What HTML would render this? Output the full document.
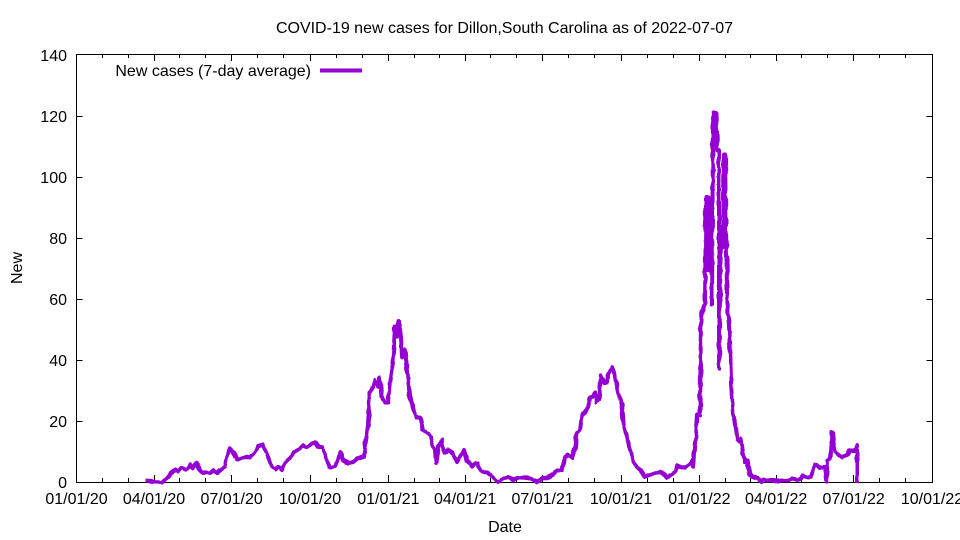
<!DOCTYPE html>
<html>
<head>
<meta charset="utf-8">
<style>
html,body{margin:0;padding:0;background:#fff;}
svg{display:block;}
text{font-family:"Liberation Sans",Arial,sans-serif;font-size:16px;fill:#000;}
</style>
</head>
<body>
<svg width="960" height="540" viewBox="0 0 960 540" xmlns="http://www.w3.org/2000/svg">
<defs>
<filter id="jit" filterUnits="userSpaceOnUse" x="70" y="40" width="880" height="450">
<feTurbulence type="fractalNoise" baseFrequency="0.12 0.12" numOctaves="1" seed="3" result="n"/>
<feDisplacementMap in="SourceGraphic" in2="n" scale="4" xChannelSelector="R" yChannelSelector="G"/>
</filter>
</defs>
<rect width="960" height="540" fill="#fff"/>
<text x="504.5" y="33" text-anchor="middle">COVID-19 new cases for Dillon,South Carolina as of 2022-07-07</text>

<!-- axes box -->
<rect x="76.5" y="54.5" width="856" height="428" fill="none" stroke="#000" stroke-width="1"/>

<!-- y ticks -->
<g stroke="#000" stroke-width="1">
<path d="M76.5 482.5h6M932.5 482.5h-6
M76.5 421.5h6M932.5 421.5h-6
M76.5 360.5h6M932.5 360.5h-6
M76.5 299.5h6M932.5 299.5h-6
M76.5 238.5h6M932.5 238.5h-6
M76.5 177.5h6M932.5 177.5h-6
M76.5 116.5h6M932.5 116.5h-6"/>
<!-- x major ticks -->
<path d="M154.5 482v-7M154.5 54v7
M231.5 482v-7M231.5 54v7
M310.5 482v-7M310.5 54v7
M388.5 482v-7M388.5 54v7
M465.5 482v-7M465.5 54v7
M542.5 482v-7M542.5 54v7
M621.5 482v-7M621.5 54v7
M699.5 482v-7M699.5 54v7
M776.5 482v-7M776.5 54v7
M853.5 482v-7M853.5 54v7"/>
<!-- x minor ticks -->
<path d="M102.5 482v-4M102.5 54v4M128.5 482v-4M128.5 54v4
M179.5 482v-4M179.5 54v4M205.5 482v-4M205.5 54v4
M257.5 482v-4M257.5 54v4M283.5 482v-4M283.5 54v4
M336.5 482v-4M336.5 54v4M362.5 482v-4M362.5 54v4
M414.5 482v-4M414.5 54v4M439.5 482v-4M439.5 54v4
M490.5 482v-4M490.5 54v4M516.5 482v-4M516.5 54v4
M568.5 482v-4M568.5 54v4M594.5 482v-4M594.5 54v4
M647.5 482v-4M647.5 54v4M673.5 482v-4M673.5 54v4
M725.5 482v-4M725.5 54v4M750.5 482v-4M750.5 54v4
M801.5 482v-4M801.5 54v4M827.5 482v-4M827.5 54v4
M879.5 482v-4M879.5 54v4M905.5 482v-4M905.5 54v4"/>
</g>

<!-- y labels -->
<g text-anchor="end">
<text x="67" y="488">0</text>
<text x="67" y="427">20</text>
<text x="67" y="366">40</text>
<text x="67" y="305">60</text>
<text x="67" y="244">80</text>
<text x="67" y="183">100</text>
<text x="67" y="122">120</text>
<text x="67" y="61">140</text>
</g>

<!-- x labels -->
<g text-anchor="middle">
<text x="76.5" y="504">01/01/20</text>
<text x="154" y="504">04/01/20</text>
<text x="231.6" y="504">07/01/20</text>
<text x="310" y="504">10/01/20</text>
<text x="388.4" y="504">01/01/21</text>
<text x="465.1" y="504">04/01/21</text>
<text x="542.6" y="504">07/01/21</text>
<text x="621" y="504">10/01/21</text>
<text x="699.4" y="504">01/01/22</text>
<text x="776.1" y="504">04/01/22</text>
<text x="853.6" y="504">07/01/22</text>
<text x="932" y="504">10/01/22</text>
</g>

<text x="505" y="532" text-anchor="middle">Date</text>
<text transform="translate(22,268) rotate(-90)" text-anchor="middle">New</text>

<!-- legend -->
<text x="311" y="76" text-anchor="end">New cases (7-day average)</text>
<line x1="320" y1="70.5" x2="362" y2="70.5" stroke="#9400d3" stroke-width="4"/>

<!-- series -->
<polyline filter="url(#jit)" fill="none" stroke="#9400d3" stroke-width="4" stroke-linejoin="round" stroke-linecap="butt" points="
145,481 162,482 167,478 172,473 175,470 178,472 182,468 185,470 190,465 193,468 197,463 200,470 203,473 207,472 210,473 213,470 217,473 220,470 225,467 228,453 230,448 233,453 237,460 243,458 250,457 255,452 258,447 263,445 265,450 268,457 272,467 275,470 278,467 282,470 285,463 290,458 293,453 298,450 303,445 307,447 312,443 315,442 318,447 322,448 327,460 330,468 335,467 340,452 343,460 348,463 353,462 358,458 364,457 366,440 368,425 370,392 373,387 375,380 378,387 380,378 382,397 385,403 388,403 390,380 393,363 395,327 397,337 399,322 401,337 402,357 405,350 407,367 410,400 413,407 416,417 420,417 423,430 428,433 432,443 435,450 436,463 438,447 442,440 444,453 448,450 453,453 457,462 460,457 464,450 467,460 472,467 475,463 477,463 480,470 484,472 488,473 493,477 498,482 503,478 508,477 513,480 518,478 523,477 528,478 533,480 538,482 543,478 548,477 553,474 557,470 562,470 565,457 568,455 572,458 575,447 577,433 580,430 582,415 585,413 588,407 590,398 593,397 595,393 597,402 599,400 601,375 604,382 607,382 608,375 612,367 614,373 616,380 618,393 622,405 624,427 627,437 630,450 633,460 637,467 640,470 645,477 650,475 655,473 660,472 665,475 667,477 672,475 675,470 678,465 682,467 685,468 688,465 692,460 693,467 695,442 697,415 700,415 701,317 703,307 705,303 706,198 707,250 708,198 708,270 709,198 710,240 711,200 712,305 713,123 714,113 716,113 717,150 719,150 719,368 721,227 723,247 724,155 725,155 727,293 728,313 730,340 731,383 733,413 735,425 737,440 739,442 741,438 743,453 745,462 747,460 750,475 753,477 758,478 761,482 763,479 768,481 775,481 782,480 787,481 792,479 797,480 800,478 803,475 806,477 808,478 812,477 814,465 817,465 820,467 825,467 827,482 828,460 830,459 832,432 833,432 835,452 838,455 842,457 847,455 850,450 855,450 857,445 857,483"/>
</svg>
</body>
</html>
